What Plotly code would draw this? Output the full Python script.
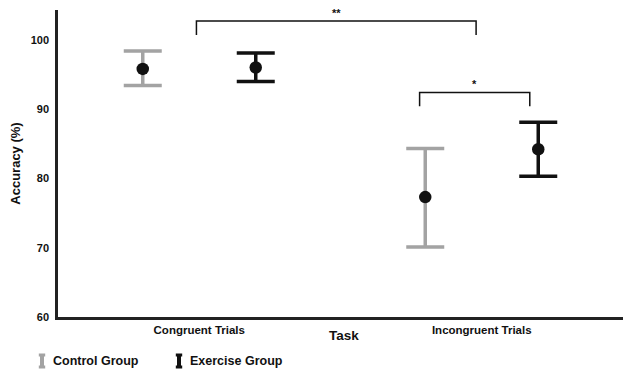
import plotly.graph_objects as go

categories = ["Congruent Trials", "Incongruent Trials"]
cat_pos = [1, 2]
offset = 0.2
control_mean = [95.8, 77.3]
control_upper = [98.4, 84.3]
control_lower = [93.4, 70.1]
exercise_mean = [96.0, 84.2]
exercise_upper = [98.1, 88.1]
exercise_lower = [94.0, 80.3]
y_ticks = [60, 70, 80, 90, 100]

# significance brackets: (x0, x1, top, bottom, label)
brackets = [
    (0.99, 1.98, 102.7, 100.7, "**"),
    (1.78, 2.17, 92.4, 90.4, "*"),
]

GRAY = "#a3a3a3"
BLACK = "#111111"
FONT = "Liberation Sans, Arial, sans-serif"

W, H = 623, 372
ML, MR, MT, MB = 58, 0, 10, 55
PW, PH = W - ML - MR, H - MT - MB


def px2paper(px, py):
    return (px - ML) / PW, (H - MB - py) / PH


fig = go.Figure()


def add_group(means, upper, lower, shift, color, name):
    xs = [p + shift for p in cat_pos]
    fig.add_trace(go.Scatter(
        x=xs, y=means, mode="markers", name=name, showlegend=False,
        marker=dict(size=12.5, color=BLACK),
        error_y=dict(type="data", symmetric=False,
                     array=[u - m for u, m in zip(upper, means)],
                     arrayminus=[m - l for m, l in zip(means, lower)],
                     color=color, thickness=3.5, width=19),
    ))


add_group(control_mean, control_upper, control_lower, -offset, GRAY, "Control Group")
add_group(exercise_mean, exercise_upper, exercise_lower, offset, BLACK, "Exercise Group")

shapes = []
annotations = []
for x0, x1, top, bot, lab in brackets:
    shapes.append(dict(type="path", xref="x", yref="y",
                       path=f"M {x0},{bot} L {x0},{top} L {x1},{top} L {x1},{bot}",
                       line=dict(color=BLACK, width=1.5)))
    annotations.append(dict(x=(x0 + x1) / 2, y=top, xref="x", yref="y", text=f"<b>{lab}</b>",
                            showarrow=False, yanchor="bottom", yshift=0,
                            font=dict(size=11, color=BLACK, family=FONT)))

# legend (custom, error-bar icons)
legend_items = [("Control Group", GRAY, 42), ("Exercise Group", BLACK, 179)]
for name, col, px in legend_items:
    xp, y_top = px2paper(px, 355)
    _, y_bot = px2paper(px, 367)
    hw = 3.2 / PW
    shapes.append(dict(type="line", xref="paper", yref="paper", x0=xp, x1=xp, y0=y_bot, y1=y_top,
                       line=dict(color=col, width=4)))
    shapes.append(dict(type="line", xref="paper", yref="paper", x0=xp - hw, x1=xp + hw, y0=y_top, y1=y_top,
                       line=dict(color=col, width=3)))
    shapes.append(dict(type="line", xref="paper", yref="paper", x0=xp - hw, x1=xp + hw, y0=y_bot, y1=y_bot,
                       line=dict(color=col, width=3)))
    tx, ty = px2paper(px + 9, 361)
    annotations.append(dict(x=tx, y=ty, xref="paper", yref="paper",
                            text=f"<b>{name}</b>", showarrow=False, xanchor="left", yanchor="middle",
                            font=dict(size=12.5, color=BLACK, family=FONT)))

# x-axis title as annotation
tx, ty = px2paper(344, 335)
annotations.append(dict(x=tx, y=ty, xref="paper", yref="paper", text="<b>Task</b>", showarrow=False,
                        xanchor="center", yanchor="middle", font=dict(size=13.5, color=BLACK, family=FONT)))

fig.update_layout(
    width=W, height=H,
    margin=dict(l=ML, r=MR, t=MT, b=MB),
    paper_bgcolor="white", plot_bgcolor="white",
    font=dict(family=FONT, color=BLACK),
    shapes=shapes, annotations=annotations,
    xaxis=dict(range=[0.5, 2.5], tickvals=cat_pos, ticktext=[f"<b>{c}</b>" for c in categories],
               showline=True, linecolor="#222", linewidth=2.5, showgrid=False, zeroline=False,
               ticks="", tickfont=dict(size=11.5, family=FONT)),
    yaxis=dict(range=[60, 104.3], tickvals=y_ticks, ticktext=[f"<b>{v}</b>" for v in y_ticks],
               showline=True, linecolor="#222", linewidth=2.5, showgrid=False, zeroline=False,
               ticks="", ticklabelstandoff=4, tickfont=dict(size=11, family=FONT),
               title=dict(text="<b>Accuracy (%)</b>", font=dict(size=13, family=FONT), standoff=8)),
    showlegend=False,
)

fig.write_html("out.html", config={"displayModeBar": False},
               post_script="document.body.style.margin='0';")
